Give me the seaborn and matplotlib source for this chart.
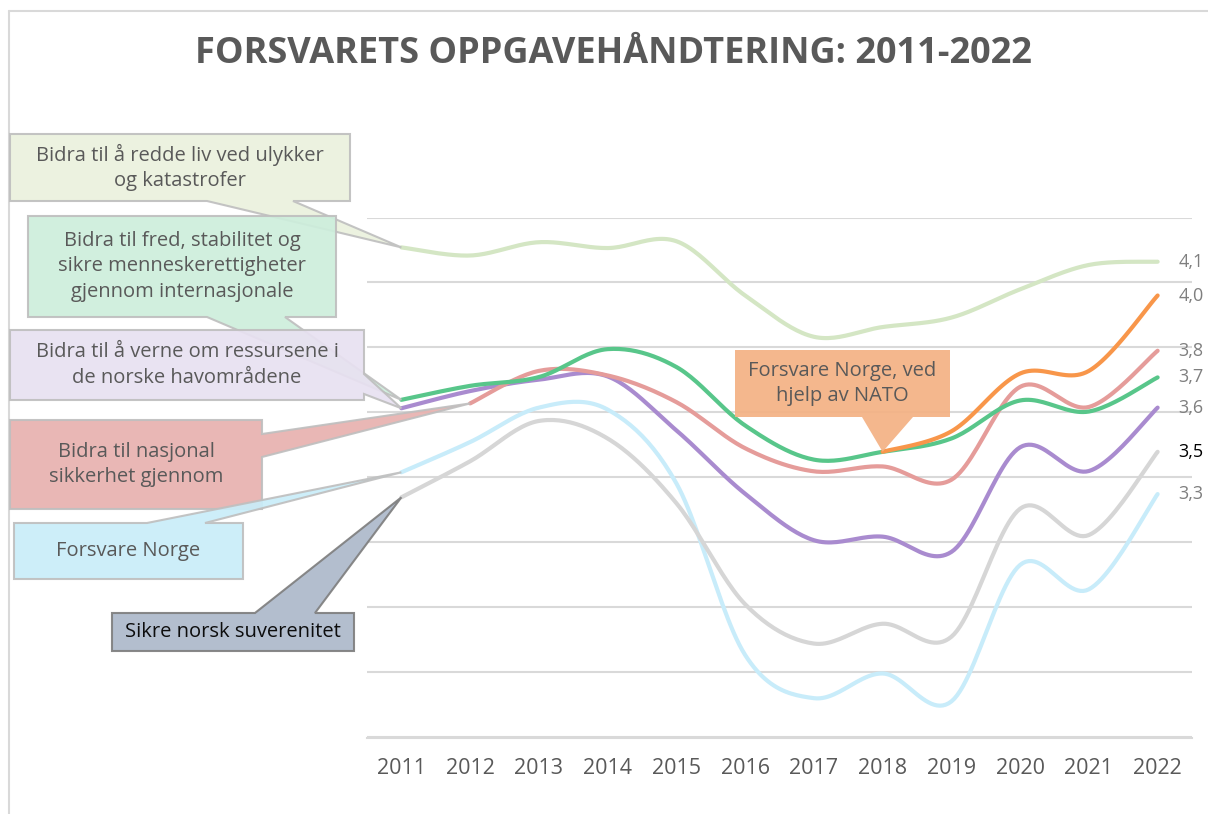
import numpy as np
import pandas as pd
import matplotlib
matplotlib.use("Agg")
import matplotlib.pyplot as plt
from matplotlib.patches import Polygon
from matplotlib.lines import Line2D
import seaborn as sns

# --- data ---
years = [2011, 2012, 2013, 2014, 2015, 2016, 2017, 2018, 2019, 2020, 2021, 2022]
redde_liv = [4.108, 4.083, 4.124, 4.106, 4.127, 3.960, 3.833, 3.863, 3.892, 3.979, 4.054, 4.064]
fred = [3.639, 3.682, 3.709, 3.795, 3.740, 3.560, 3.455, 3.479, 3.520, 3.637, 3.603, 3.708]
verne = [3.613, 3.666, 3.701, 3.711, 3.545, 3.350, 3.207, 3.218, 3.171, 3.493, 3.420, 3.615]
nasjonal = [np.nan, 3.628, 3.728, 3.714, 3.632, 3.490, 3.419, 3.434, 3.393, 3.679, 3.617, 3.790]
nato = [np.nan, np.nan, np.nan, np.nan, np.nan, np.nan, np.nan, 3.479, 3.542, 3.720, 3.728, 3.960]
forsvare = [3.416, 3.509, 3.615, 3.609, 3.382, 2.854, 2.721, 2.797, 2.711, 3.131, 3.056, 3.349]
suverenitet = [3.339, 3.450, 3.574, 3.520, 3.321, 3.010, 2.889, 2.950, 2.910, 3.304, 3.223, 3.479]

series = {
    'redde_liv': redde_liv,
    'forsvare': forsvare,
    'suverenitet': suverenitet,
    'verne': verne,
    'nasjonal': nasjonal,
    'fred': fred,
    'nato': nato,
}
colors = {
    'redde_liv': '#D4E6C4',
    'forsvare': '#C8ECFA',
    'suverenitet': '#D6D6D6',
    'verne': '#A98BCF',
    'nasjonal': '#E59C9A',
    'fred': '#58C68A',
    'nato': '#F8964A',
}
label_colors = {'suverenitet': '#000000'}

W, H = 1208, 814
sns.set_style("white")
plt.rcParams['font.family'] = ['Open Sans', 'DejaVu Sans']

fig = plt.figure(figsize=(W / 100, H / 100), dpi=100)
# plot area in pixels: x 367..1192, y 217.5..737.5
ax = fig.add_axes([367 / W, 1 - 737.5 / H, (1192 - 367) / W, (737.5 - 217.5) / H])


def smooth(xs, ys, n=24):
    # Excel-like smoothed line: bezier with catmull-rom control points
    xs = np.asarray(xs, float)
    ys = np.asarray(ys, float)
    px, py = [], []
    m = len(xs)
    for i in range(m - 1):
        i0, i3 = max(i - 1, 0), min(i + 2, m - 1)
        p0 = np.array([xs[i], ys[i]])
        p3 = np.array([xs[i + 1], ys[i + 1]])
        c1 = p0 + (p3 - np.array([xs[i0], ys[i0]])) / 6
        c2 = p3 - (np.array([xs[i3], ys[i3]]) - p0) / 6
        t = np.linspace(0, 1, n, endpoint=(i == m - 2))[:, None]
        pts = (1 - t) ** 3 * p0 + 3 * (1 - t) ** 2 * t * c1 + 3 * (1 - t) * t ** 2 * c2 + t ** 3 * p3
        px.extend(pts[:, 0])
        py.extend(pts[:, 1])
    return px, py


rows = []
for name, vals in series.items():
    idx = [i for i, v in enumerate(vals) if not np.isnan(v)]
    sx, sy = smooth(idx, [vals[i] for i in idx])
    rows.append(pd.DataFrame({'x': sx, 'y': sy, 'serie': name}))
curves = pd.concat(rows, ignore_index=True)

sns.lineplot(data=curves, x='x', y='y', hue='serie', palette=colors, sort=False,
             estimator=None, linewidth=3.0, legend=False, ax=ax, zorder=3)

ax.set_xlim(-0.5, len(years) - 0.5)
ax.set_ylim(2.6, 4.2)
ax.set_yticks(np.arange(2.6, 4.21, 0.2))
ax.set_yticklabels([])
ax.tick_params(axis='y', length=0)
ax.set_xticks(range(len(years)))
ax.set_xticklabels([str(y) for y in years], fontsize=15.5, color='#595959')
ax.tick_params(axis='x', length=0, pad=15)
ax.grid(axis='y', color='#D9D9D9', linewidth=1.5)
ax.set_xlabel('')
ax.set_ylabel('')
for s in ['left', 'right', 'top']:
    ax.spines[s].set_visible(False)
ax.spines['bottom'].set_color('#D9D9D9')
ax.spines['bottom'].set_linewidth(1.5)

# end-of-line value labels
for name, vals in series.items():
    v = vals[-1]
    ax.text(len(years) - 1 + 0.3, v, f"{v:.1f}".replace('.', ','), fontsize=13,
            color=label_colors.get(name, '#7F7F7F'), va='center', ha='left', clip_on=False)

# title
fig.text(613 / W, 1 - 54 / H, 'FORSVARETS OPPGAVEHÅNDTERING: 2011-2022', ha='center', va='center',
         fontsize=26, fontweight='bold', color='#595959')

# chart frame (top and left edges visible)
fig.add_artist(Line2D([9 / W, 1], [1 - 11 / H, 1 - 11 / H], color='#D9D9D9', lw=1.5))
fig.add_artist(Line2D([9 / W, 9 / W], [1 - 11 / H, 0], color='#D9D9D9', lw=1.5))


def to_fig(x, y):
    return (x / W, 1 - y / H)


def data_px(i, v):
    dx, dy = ax.transData.transform((i, v))
    return dx, H - dy


def callout(box, side, base, tip, text, fill, edge, tcolor, fs=14.5):
    x0, y0, x1, y1 = box
    b1, b2 = base
    if side == 'bottom':
        pts = [(x0, y0), (x1, y0), (x1, y1), (b2, y1), tip, (b1, y1), (x0, y1)]
    elif side == 'top':
        pts = [(x0, y0), (b1, y0), tip, (b2, y0), (x1, y0), (x1, y1), (x0, y1)]
    else:  # right
        pts = [(x0, y0), (x1, y0), (x1, b1), tip, (x1, b2), (x1, y1), (x0, y1)]
    poly = Polygon([to_fig(*p) for p in pts], closed=True, transform=fig.transFigure,
                   facecolor=fill, edgecolor=edge if edge else 'none', linewidth=1.5,
                   alpha=0.92, zorder=5)
    fig.add_artist(poly)
    cx, cy = (x0 + x1) / 2, (y0 + y1) / 2
    fig.text(cx / W, 1 - cy / H, text, ha='center', va='center', fontsize=fs, color=tcolor,
             linespacing=1.35, zorder=6)


callout((10, 134, 350, 201), 'bottom', (207, 293), data_px(0, redde_liv[0]),
        'Bidra til å redde liv ved ulykker\nog katastrofer', '#EBF1DE', '#BFBFBF', '#595959')
callout((28, 216, 336, 317), 'bottom', (207, 285), data_px(0, fred[0]),
        'Bidra til fred, stabilitet og\nsikre menneskerettigheter\ngjennom internasjonale',
        '#CDEEDC', '#BFBFBF', '#595959')
callout((10, 330, 364, 400), 'right', (374, 394), data_px(0, verne[0]),
        'Bidra til å verne om ressursene i\nde norske havområdene', '#E8E1F1', '#BFBFBF', '#595959')
callout((10, 420, 262, 509), 'right', (434, 457), data_px(1, nasjonal[1]),
        'Bidra til nasjonal\nsikkerhet gjennom', '#E8B1AF', '#BFBFBF', '#595959')
callout((14, 523, 243, 579), 'top', (147, 205), data_px(0, forsvare[0]),
        'Forsvare Norge', '#C9EDF9', '#BFBFBF', '#595959')
callout((112, 613, 354, 651), 'top', (255, 315), data_px(0, suverenitet[0]),
        'Sikre norsk suverenitet', '#ADB9CA', '#7F7F7F', '#0D0D0D')
callout((735, 350, 950, 417), 'bottom', (862, 913), data_px(7, nato[7]),
        'Forsvare Norge, ved\nhjelp av NATO', '#F4B183', None, '#595959')

fig.savefig('out.png', dpi=100)
